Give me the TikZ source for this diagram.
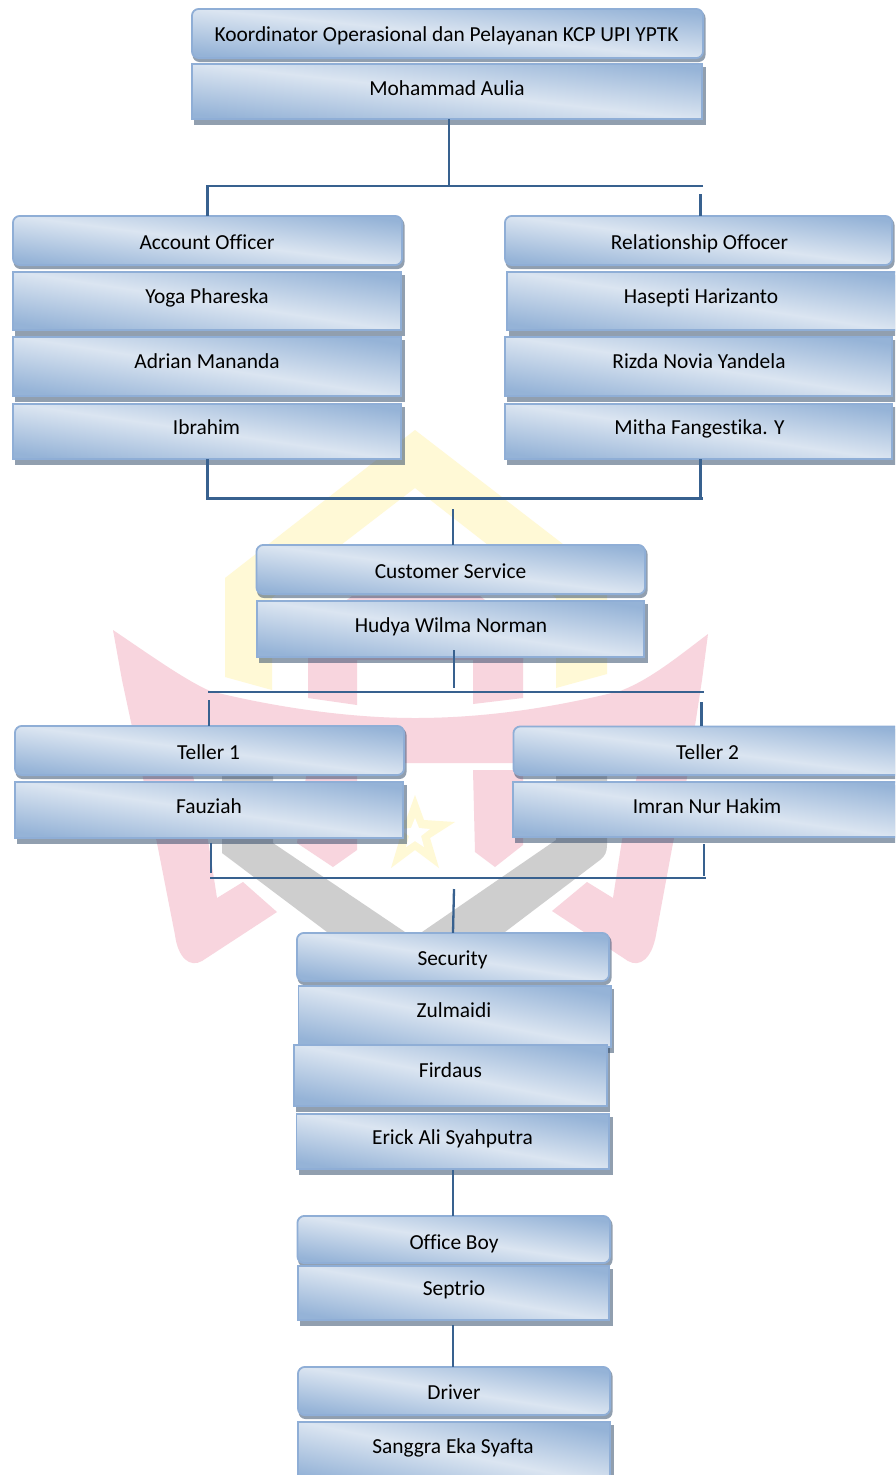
\documentclass[tikz,border=0pt]{standalone}
\usepackage{fontspec}
\setmainfont{Carlito}[Ligatures=NoCommon]
\definecolor{bdark}{HTML}{95B3D7}
\definecolor{blight}{HTML}{DBE5F1}
\definecolor{edgeblue}{HTML}{8FAED6}
\definecolor{shadowblue}{HTML}{254061}
\definecolor{linkblue}{HTML}{38618F}
\definecolor{wmpink}{HTML}{F8D5DE}
\definecolor{wmyellow}{HTML}{FFF9D6}
\definecolor{wmgray}{HTML}{CECECE}
\pgfdeclareverticalshading{officeblue}{100bp}{color(0bp)=(bdark);color(25bp)=(bdark);color(50bp)=(blight);color(75bp)=(bdark);color(100bp)=(bdark)}
\tikzset{
  basebox/.style={draw=edgeblue,line width=1.8pt,inner sep=0pt,outer sep=0pt,shading=officeblue},
  sqbox/.style={basebox,rectangle},
  rbox/.style={basebox,rectangle,rounded corners=7pt},
  label text/.style={inner sep=0pt,anchor=base,text=black,font=\fontsize{21.4}{25}\selectfont},
  conn/.style={draw=linkblue,line width=2.3pt}
}
% style, name, x1, y1, x2, y2, text x, text y, text
\newcommand{\orgbox}[9]{%
  \pgfmathsetmacro{\cxx}{(#3+#5)/2}\pgfmathsetmacro{\cyy}{(#4+#6)/2}%
  \pgfmathsetmacro{\ww}{#5-#3-1.8}\pgfmathsetmacro{\hh}{#6-#4-1.8}%
  \pgfmathsetmacro{\ang}{-atan((#6-#4)/(#5-#3))}%
  \def\tmpstyle{#1}\def\tmpr{rbox}%
  \ifx\tmpstyle\tmpr
    \fill[shadowblue,opacity=.5,rounded corners=7pt] (#3+1.5,#4+3) rectangle (#5+1.5,#6+3);
  \else
    \fill[shadowblue,opacity=.5] (#3+3,#4+4) rectangle (#5+2.5,#6+4.5);
  \fi
  \node[#1,shading angle=\ang,minimum width=\ww pt,minimum height=\hh pt] (#2) at (\cxx,\cyy) {};
  \node[label text] (#2-t) at (#7,#8+7) {#9};
}
\begin{document}
\begin{tikzpicture}[x=1pt,y=-1pt]
\clip (0,0) rectangle (895,1475);
\fill[white] (0,0) rectangle (895,1475);
% watermark
\fill[wmyellow] (415,430) -- (607,578) -- (607,674) -- (556,688) -- (556,598) -- (415,488) -- (272,598) -- (272,690) -- (225,677) -- (225,578) -- cycle;
\fill[wmpink] (308,660) -- (308,630) -- (352,596) -- (480,596) -- (523,630) -- (523,660) -- cycle;
\fill[wmpink] (308,640) -- (357,640) -- (357,705) -- (308,698) -- cycle;
\fill[wmpink] (473,640) -- (523,640) -- (523,698) -- (473,704) -- cycle;
\fill[wmyellow] (415,795) -- (424,820) -- (455,822) -- (430,838) -- (439,868) -- (415,850) -- (391,868) -- (400,838) -- (375,822) -- (406,820) -- cycle;
\fill[white] (415,818) -- (419,828) -- (430,829) -- (421,836) -- (424,847) -- (415,841) -- (406,847) -- (409,836) -- (400,829) -- (411,828) -- cycle;
\fill[wmgray] (222,765) -- (273,765) -- (273,843) -- (405,932) -- (440,960) -- (360,960) -- (327,932) -- (222,853) -- cycle;
\fill[wmgray] (607,765) -- (556,765) -- (556,840) -- (422,932) -- (395,960) -- (475,960) -- (505,932) -- (600,860) .. controls (605,856) and (607,852) .. (607,845) -- cycle;
\fill[wmpink] (113,630) .. controls (150,655) and (185,680) .. (210,691) .. controls (270,706) and (345,718) .. (415,718) .. controls (490,718) and (560,706) .. (620,691) .. controls (650,680) and (680,655) .. (708,634)
  -- (702,680) -- (687,778) -- (673,843) -- (656,935) .. controls (652,958) and (640,968) .. (628,961) -- (552,911) -- (587,882) -- (613,898) -- (622,840) -- (640,763)
  -- (190,763) -- (208,840) -- (217,898) -- (243,882) -- (277,912) -- (202,961) .. controls (190,968) and (178,958) .. (175,935) -- (157,843) -- (143,778) -- (122,680) -- cycle;
\fill[wmpink] (307,769) -- (357,769) -- (357,850) -- (333,867) -- (297,843) -- cycle;
\fill[wmpink] (473,770) -- (523,770) -- (523,845) -- (495,867) -- (475,852) -- cycle;
% boxes
\orgbox{rbox}{koord}{191}{8}{704}{59}{446.5}{34}{Koordinator Operasional dan Pelayanan KCP UPI YPTK}
\orgbox{sqbox}{moh}{191}{63}{703}{120}{447}{88}{Mohammad Aulia}
\orgbox{rbox}{ao}{12}{215}{403}{266}{207}{242}{Account Officer}
\orgbox{sqbox}{yoga}{12}{271}{402}{331}{207}{296}{Yoga Phareska}
\orgbox{sqbox}{adrian}{12}{336}{402}{397}{207}{361}{Adrian Mananda}
\orgbox{sqbox}{ibrahim}{12}{403}{402}{460}{206.5}{427}{Ibrahim}
\orgbox{rbox}{ro}{504}{215}{893}{266}{699.5}{242}{Relationship Offocer}
\orgbox{sqbox}{hasepti}{506}{271}{900}{331}{701}{296}{Hasepti Harizanto}
\orgbox{sqbox}{rizda}{504}{336}{893}{397}{699}{361}{Rizda Novia Yandela}
\orgbox{sqbox}{mitha}{504}{403}{893}{460}{699.5}{427}{Mitha Fangestika. Y}
\orgbox{rbox}{cs}{255.5}{544}{646}{595}{450.5}{571}{Customer Service}
\orgbox{sqbox}{hudya}{256}{600}{645}{658}{451}{625}{Hudya Wilma Norman}
\orgbox{rbox}{t1}{14}{725}{405}{776}{208.5}{752}{Teller 1}
\orgbox{sqbox}{fauziah}{14}{781}{404}{839}{209}{806}{Fauziah}
\orgbox{rbox}{t2}{512.5}{725.5}{905}{776}{707.5}{752}{Teller 2}
\orgbox{sqbox}{imran}{512}{781}{905}{838}{707}{806}{Imran Nur Hakim}
\orgbox{rbox}{sec}{296}{932}{610}{982}{452.5}{958}{Security}
\orgbox{sqbox}{zul}{297.5}{985}{611.5}{1048}{454}{1010}{Zulmaidi}
\orgbox{sqbox}{firdaus}{293}{1044}{607.5}{1107}{450.5}{1070}{Firdaus}
\orgbox{sqbox}{erick}{295.5}{1113}{610}{1170}{452.5}{1137}{Erick Ali Syahputra}
\orgbox{rbox}{ob}{296.5}{1215}{611}{1264}{454}{1242}{Office Boy}
\orgbox{sqbox}{septrio}{297}{1265}{610}{1321}{454}{1288}{Septrio}
\orgbox{rbox}{driver}{297}{1366}{611}{1416}{454}{1392}{Driver}
\orgbox{sqbox}{sanggra}{297}{1421}{611}{1485}{453}{1446}{Sanggra Eka Syafta}
% connector joints
\coordinate (a1) at (449,186); \coordinate (a2) at (207.5,186); \coordinate (a3) at (703,186); \coordinate (a4) at (700.5,194);
\coordinate (b1) at (207.5,498.5); \coordinate (b2) at (700.5,498.5); \coordinate (b3) at (703,498.5); \coordinate (b4) at (452.7,509);
\coordinate (c1) at (454,650); \coordinate (c2) at (454,688); \coordinate (c3) at (208,692); \coordinate (c4) at (703.5,692); \coordinate (c5) at (209,700); \coordinate (c6) at (701.5,702);
\coordinate (d1) at (210.7,842.7); \coordinate (d2) at (210.7,873); \coordinate (d3) at (210,878.3); \coordinate (d4) at (706,878.3); \coordinate (d5) at (703.7,844); \coordinate (d6) at (703.7,876); \coordinate (d7) at (454,889);
\coordinate (e1) at (452.7,1170); \coordinate (e2) at (452.7,1325);
% connectors
\draw[conn] (a1 |- moh.south) -- (a1);
\draw[conn] (a3) -- (a2) -- (a2 |- ao.north);
\draw[conn] (a4) -- (a4 |- ro.north);
\draw[conn] (b1 |- ibrahim.south) -- (b1) -- (b3);
\draw[conn] (b2 |- mitha.south) -- (b2);
\draw[conn] (b4) -- (b4 |- cs.north);
\draw[conn] (c1) -- (c2);
\draw[conn] (c3) -- (c4);
\draw[conn] (c5) -- (c5 |- t1.north);
\draw[conn] (c6) -- (c6 |- t2.north);
\draw[conn] (d1) -- (d2);
\draw[conn] (d3) -- (d4);
\draw[conn] (d5) -- (d6);
\draw[conn] (d7) -- (sec.north);
\draw[conn] (e1) -- (e1 |- ob.north);
\draw[conn] (e2) -- (e2 |- driver.north);
\end{tikzpicture}
\end{document}
